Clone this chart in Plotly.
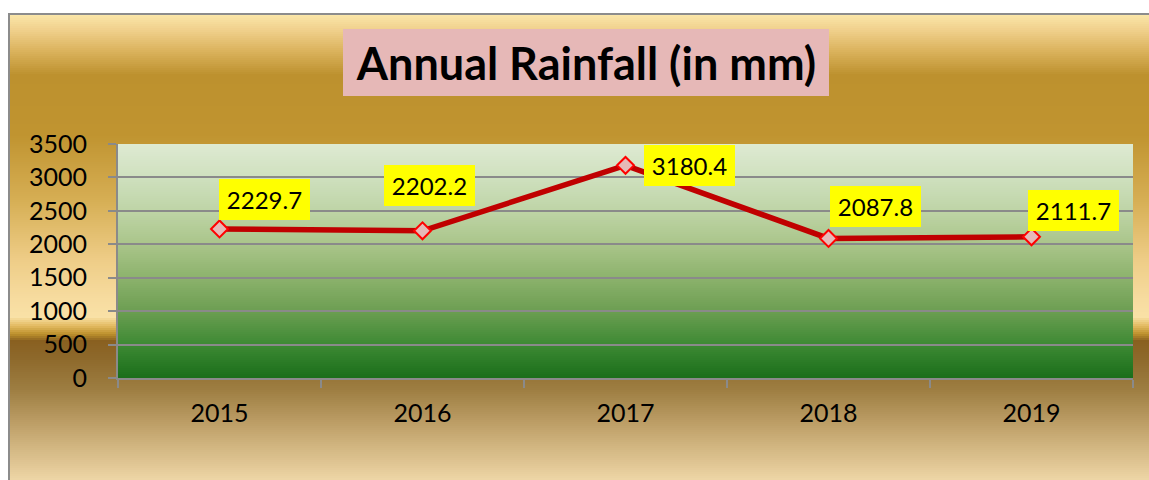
import plotly.graph_objects as go

# ---- data ----
years = ["2015", "2016", "2017", "2018", "2019"]
rainfall = [2229.7, 2202.2, 3180.4, 2087.8, 2111.7]
label_texts = ["2229.7", "2202.2", "3180.4", "2087.8", "2111.7"]
title_text = "Annual Rainfall (in mm)"

# ---- layout geometry (pixels) ----
W, H = 1149, 480
ML, MR, MT, MB = 118, 16, 144, 102
PW = W - ML - MR
PH = H - MT - MB


def px_x(px):
    return (px - ML) / PW


def px_y(py):
    return (H - MB - py) / PH


def interp(stops, v):
    for (a, ca), (b, cb) in zip(stops, stops[1:]):
        if a <= v <= b:
            t = 0 if b == a else (v - a) / (b - a)
            return tuple(round(ca[i] + (cb[i] - ca[i]) * t) for i in range(3))
    return stops[-1][1] if v > stops[-1][0] else stops[0][1]


def rgb(c):
    return "rgb(%d,%d,%d)" % c


shapes = []

# outer chart background gradient (gold)
outer_stops = [
    (14, (251, 231, 170)),
    (30, (240, 208, 140)),
    (50, (220, 180, 95)),
    (75, (189, 145, 46)),
    (135, (192, 148, 48)),
    (200, (214, 174, 84)),
    (260, (238, 205, 135)),
    (300, (247, 220, 160)),
    (317, (249, 225, 166)),
    (326, (226, 186, 96)),
    (334, (190, 145, 45)),
    (341, (137, 96, 32)),
    (360, (142, 106, 44)),
    (390, (158, 126, 66)),
    (430, (195, 165, 110)),
    (480, (238, 214, 166)),
]
step = 2
y = 14
while y < H:
    c = interp(outer_stops, y + step / 2)
    shapes.append(dict(type="rect", xref="paper", yref="paper",
                       x0=px_x(9), x1=px_x(W + 5), y0=px_y(y + step), y1=px_y(y),
                       fillcolor=rgb(c), line=dict(width=0), layer="below"))
    y += step

# outer border
shapes.append(dict(type="rect", xref="paper", yref="paper",
                   x0=px_x(9), x1=px_x(W + 5), y0=px_y(H + 5), y1=px_y(14),
                   fillcolor="rgba(0,0,0,0)", line=dict(color="#8c8c8c", width=2),
                   layer="below"))

# plot area gradient (green)
plot_stops = [
    (144, (222, 234, 210)),
    (178, (207, 224, 190)),
    (211, (190, 212, 166)),
    (244, (170, 197, 138)),
    (278, (140, 178, 108)),
    (311, (108, 158, 82)),
    (344, (62, 138, 52)),
    (378, (26, 110, 26)),
]
y = MT
while y < H - MB:
    c = interp(plot_stops, y + step / 2)
    shapes.append(dict(type="rect", xref="paper", yref="paper",
                       x0=0, x1=1, y0=px_y(min(y + step, H - MB)), y1=px_y(y),
                       fillcolor=rgb(c), line=dict(width=0), layer="below"))
    y += step

fig = go.Figure()
fig.add_trace(go.Scatter(
    x=years, y=rainfall, mode="lines+markers",
    line=dict(color="#c00000", width=5.5),
    marker=dict(symbol="diamond", size=13, color="#e6b9b8",
                line=dict(color="#ff0000", width=2)),
    hoverinfo="x+y", showlegend=False,
))

# data labels (offsets in pixels, as placed in the original)
label_offsets = [(44.5, 29.5), (7, 45), (63.5, -0.5), (47, 32), (41.7, 26)]
annotations = []
for i, (v, t, (dx, dy)) in enumerate(zip(rainfall, label_texts, label_offsets)):
    annotations.append(dict(
        x=i, y=v, xref="x", yref="y", text=t, showarrow=False,
        xshift=dx, yshift=dy, bgcolor="#ffff00", width=87, height=37,
        borderpad=2, borderwidth=0,
        font=dict(family="Lato", size=24, color="black"),
    ))

annotations.append(dict(
    x=px_x(586), y=px_y(62.5), xref="paper", yref="paper", text="<b>" + title_text + "</b>",
    showarrow=False, bgcolor="#e6b8b7", width=482, height=63, borderpad=2, borderwidth=0,
    font=dict(family="Lato", size=45, color="black"),
    xanchor="center", yanchor="middle",
))

fig.update_layout(
    width=W, height=H,
    margin=dict(l=ML, r=MR, t=MT, b=MB, pad=0),
    paper_bgcolor="white",
    plot_bgcolor="rgba(0,0,0,0)",
    shapes=shapes,
    annotations=annotations,
    font=dict(family="Lato", size=24, color="black"),
    xaxis=dict(
        type="category", range=[-0.5, 4.5],
        showline=True, linecolor="#8a8a8a", linewidth=2,
        ticks="outside", tickson="boundaries", ticklen=8, tickwidth=2, tickcolor="#8a8a8a",
        showgrid=False, ticklabelstandoff=12,
        tickfont=dict(family="Lato", size=25, color="black"),
        fixedrange=True,
    ),
    yaxis=dict(
        range=[0, 3500], dtick=500, tick0=0,
        showline=True, linecolor="#8a8a8a", linewidth=2,
        ticks="outside", ticklen=8, tickwidth=2, tickcolor="#8a8a8a",
        showgrid=True, gridcolor="#8a8a8a", gridwidth=2,
        zeroline=False, ticklabelstandoff=16,
        tickfont=dict(family="Lato", size=25, color="black"),
        fixedrange=True,
    ),
)

fig.write_html("out.html", config={"displayModeBar": False},
               post_script="document.body.style.margin='0';")
